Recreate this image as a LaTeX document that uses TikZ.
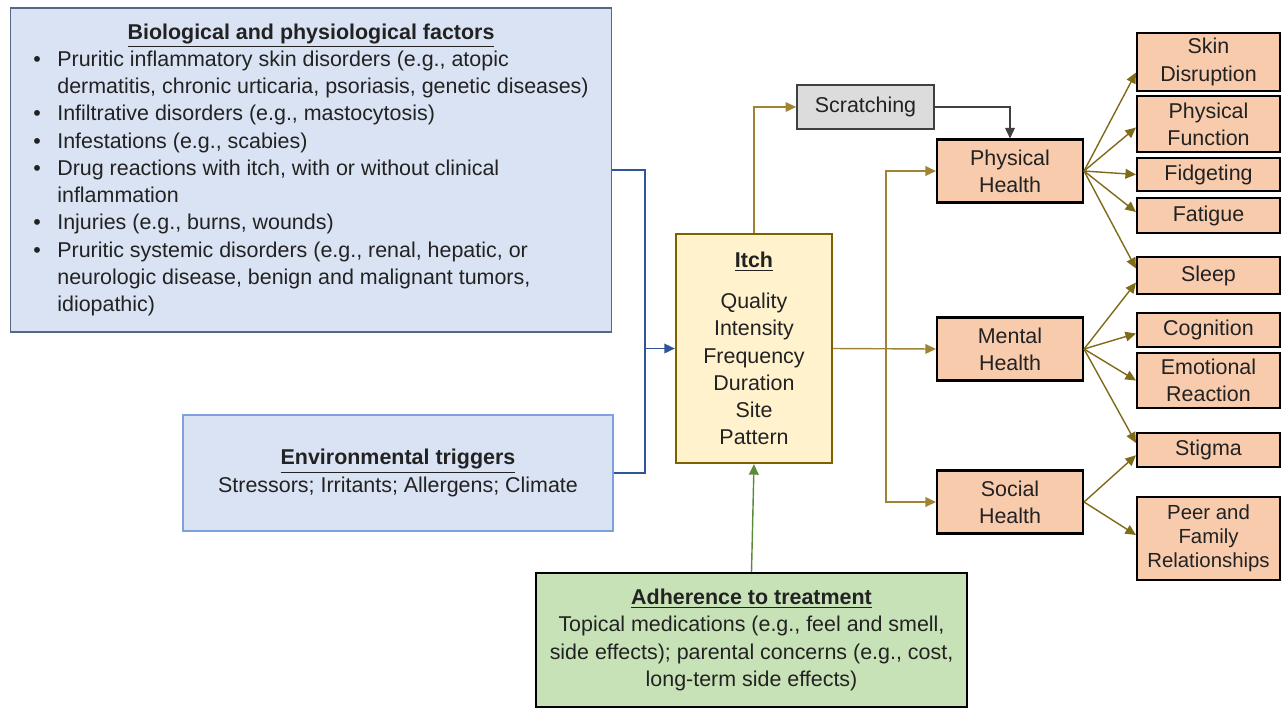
\documentclass[tikz,border=0pt]{standalone}
\usepackage{fontspec}
\setmainfont{Liberation Sans}
\usepackage{tikz}
\usetikzlibrary{arrows.meta,positioning}
\usepackage{xcolor}
\definecolor{factorfill}{HTML}{DAE3F3}
\definecolor{bioedge}{HTML}{56678A}
\definecolor{envedge}{HTML}{7EA0DC}
\definecolor{linkblue}{HTML}{2E5597}
\definecolor{itchfill}{HTML}{FFF2CC}
\definecolor{itchedge}{HTML}{7F6000}
\definecolor{linkgold}{HTML}{A08433}
\definecolor{linkolive}{HTML}{7F6A1A}
\definecolor{scratchfill}{HTML}{DCDCDC}
\definecolor{scratchedge}{HTML}{404040}
\definecolor{healthfill}{HTML}{F8CBAD}
\definecolor{adhfill}{HTML}{C8E2B7}
\definecolor{linkgreen}{HTML}{5A8A3A}
\definecolor{textgrey}{HTML}{222222}

\begin{document}
\begin{tikzpicture}[
    x=0.02cm, y=-0.02cm,
    every node/.style={font=\fontsize{12.2}{15.5}\selectfont, text=textgrey, inner sep=2pt},
    factorbox/.style={rectangle, draw=bioedge, line width=0.8pt, fill=factorfill, align=center},
    itchbox/.style={rectangle, draw=itchedge, line width=1.3pt, fill=itchfill, align=center, minimum width=3.12cm, minimum height=4.58cm},
    scratchbox/.style={rectangle, draw=scratchedge, line width=1pt, fill=scratchfill, align=center, minimum width=2.74cm, minimum height=0.88cm},
    healthbox/.style={rectangle, draw=black, line width=1.2pt, fill=healthfill, align=center, minimum width=2.92cm, minimum height=1.26cm},
    outbox/.style={rectangle, draw=black, line width=1.2pt, fill=healthfill, align=center, minimum width=2.86cm},
    adhbox/.style={rectangle, draw=black, line width=1.2pt, fill=adhfill, align=center, minimum width=8.62cm, minimum height=2.68cm},
    link/.style={-{Triangle[length=6pt,width=5.5pt]}},
    bluelink/.style={draw=linkblue, line width=0.8pt},
    goldlink/.style={draw=linkgold, line width=0.8pt},
    olivelink/.style={draw=linkolive, line width=0.8pt},
    greylink/.style={draw=scratchedge, line width=0.8pt},
    greenlink/.style={draw=linkgreen, line width=0.8pt}
]
\useasboundingbox (0,0) rectangle (1281,708);

% factors on the left
\node[factorbox, minimum width=12.02cm, minimum height=6.48cm] (bio) at (311,170) {%
\begin{tabular}{@{}p{0.48cm}@{}l@{}}
\multicolumn{2}{c}{\underline{\textbf{Biological and physiological factors}}}\\
\textbullet & Pruritic inflammatory skin disorders (e.g., atopic\\
 & dermatitis, chronic urticaria, psoriasis, genetic diseases)\\
\textbullet & Infiltrative disorders (e.g., mastocytosis)\\
\textbullet & Infestations (e.g., scabies)\\
\textbullet & Drug reactions with itch, with or without clinical\\
 & inflammation\\
\textbullet & Injuries (e.g., burns, wounds)\\
\textbullet & Pruritic systemic disorders (e.g., renal, hepatic, or\\
 & neurologic disease, benign and malignant tumors,\\
 & idiopathic)
\end{tabular}};
\node[factorbox, draw=envedge, minimum width=8.6cm, minimum height=2.32cm] (env) at (398,473) {\underline{\textbf{Environmental triggers}}\\Stressors; Irritants; Allergens; Climate};

% itch and scratching
\node[itchbox] (itch) at (754,348.5) {\underline{\textbf{Itch}}\\[8pt]Quality\\Intensity\\Frequency\\Duration\\Site\\Pattern};
\node[scratchbox] (scratch) at (865.5,107) {Scratching};

% health domains
\node[healthbox] (phys) at (1010,171) {Physical\\Health};
\node[healthbox] (mental) at (1010,349) {Mental\\Health};
\node[healthbox] (social) at (1010,502) {Social\\Health};

% outcomes
\node[outbox, minimum height=1.16cm] (skin) at (1208.5,62) {Skin\\Disruption};
\node[outbox, minimum height=1.12cm] (physfun) at (1208.5,124) {Physical\\Function};
\node[outbox, minimum height=0.66cm] (fidget) at (1208.5,174.5) {Fidgeting};
\node[outbox, minimum height=0.7cm] (fatigue) at (1208.5,215.5) {Fatigue};
\node[outbox, minimum height=0.74cm] (sleep) at (1208.5,275.5) {Sleep};
\node[outbox, minimum height=0.68cm] (cognition) at (1208.5,330) {Cognition};
\node[outbox, minimum height=1.1cm] (emotion) at (1208.5,380.5) {Emotional\\Reaction};
\node[outbox, minimum height=0.68cm] (stigma) at (1208.5,450) {Stigma};
\node[outbox, minimum height=1.66cm, font=\fontsize{11.6}{13.7}\selectfont] (peer) at (1208.5,538.5) {Peer and\\Family\\Relationships};

% treatment
\node[adhbox] (adh) at (751.5,640) {\underline{\textbf{Adherence to treatment}}\\Topical medications (e.g., feel and smell,\\side effects); parental concerns (e.g., cost,\\long-term side effects)};

% connectors
\coordinate (merge) at (645,348.5);
\coordinate (fork) at (886,348.5);
\draw[bluelink] (bio.east) -| (merge);
\draw[bluelink] (env.east) -| (merge);
\draw[bluelink, link] (merge) -- (itch.west);
\draw[goldlink, link] (itch.north) |- (scratch.west);
\draw[goldlink, link] (itch.east) -- (mental.west);
\draw[goldlink, link] (fork) |- (phys.west);
\draw[goldlink, link] (fork) |- (social.west);
\draw[greylink, link] (scratch.east) -| (phys.north);
\draw[greenlink, link] (adh.north) -- (itch.south);
\foreach \target/\dy in {skin/-6pt, physfun/-2pt, fidget/0pt, fatigue/2pt, sleep/4pt}
    \draw[olivelink, link] (phys.east) -- ([yshift=\dy]\target.west);
\foreach \target/\dy in {sleep/-4pt, cognition/-2pt, emotion/0pt, stigma/4pt}
    \draw[olivelink, link] (mental.east) -- ([yshift=\dy]\target.west);
\foreach \target/\dy in {stigma/-3pt, peer/2pt}
    \draw[olivelink, link] (social.east) -- ([yshift=\dy]\target.west);
\end{tikzpicture}
\end{document}
